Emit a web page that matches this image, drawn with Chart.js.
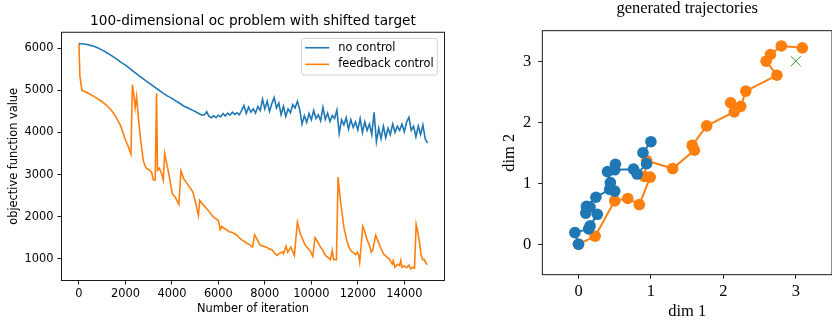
<!DOCTYPE html>
<html>
<head>
<meta charset="utf-8">
<script src="https://cdn.jsdelivr.net/npm/chart.js@4.4.1/dist/chart.umd.min.js"></script>
<style>
  html, body { margin: 0; padding: 0; background: #fff; overflow: hidden; width: 832px; height: 322px; }
  canvas { position: absolute; top: 0; }
  #lossChart { left: 0; }
  #trajChart { left: 460px; }
</style>
</head>
<body>
<canvas id="lossChart" width="460" height="322"></canvas>
<canvas id="trajChart" width="380" height="322"></canvas>
<script>
/* ── Datos: panel izquierdo (función objetivo) ──────────────────────────── */
const ITER_STEP = 100;   // no control: un valor cada 100 iteraciones
const noControlLoss = [
  6110, 6108, 6102, 6093, 6082, 6068, 6052, 6033, 6012, 5985,
  5955, 5925, 5893, 5860, 5825, 5790, 5752, 5713, 5672, 5635,
  5600, 5555, 5515, 5470, 5425, 5385, 5340, 5300, 5260, 5220,
  5180, 5140, 5100, 5060, 5020, 4980, 4940, 4905, 4870, 4840,
  4810, 4775, 4740, 4705, 4670, 4630, 4605, 4580, 4550, 4525,
  4500, 4470, 4440, 4410, 4420, 4490, 4380, 4350, 4400, 4350,
  4410, 4370, 4450, 4390, 4460, 4410, 4480, 4430, 4470, 4420,
  4520, 4640, 4450, 4600, 4480, 4560, 4460, 4620, 4520, 4790,
  4560, 4740, 4500, 4680, 4830, 4580, 4700, 4420, 4620, 4380,
  4560, 4470, 4660, 4580, 4740, 4550, 4200, 4400, 4240, 4450,
  4300, 4520, 4330, 4420, 4280, 4600, 4310, 4460, 4260, 4400,
  4330, 4530, 3980, 4300, 4180, 4350, 4080, 4300, 4120, 4250,
  4060, 4330, 4000, 4250, 4050, 4200, 3950, 4480, 3780, 4100,
  3850, 4150, 3880, 4100, 3950, 4200, 4000, 4150, 4050, 4200,
  4020, 4250, 4360, 4050, 4150, 3900, 4150, 3950, 4180, 3850,
  3750
];

const feedbackIter = [
  0, 40, 130, 300, 500, 700, 1000, 1200, 1400, 1550,
  1700, 1800, 1900, 2000, 2100, 2240, 2300, 2360, 2420, 2480,
  2550, 2650, 2770, 2850, 2920, 3000, 3130, 3200, 3280, 3340,
  3380, 3460, 3560, 3630, 3690, 3780, 3920, 4020, 4140, 4300,
  4390, 4500, 4700, 4900, 5030, 5140, 5200, 5350, 5500, 5650,
  5790, 5900, 6000, 6080, 6150, 6250, 6370, 6450, 6580, 6680,
  6800, 6900, 7010, 7100, 7230, 7350, 7470, 7560, 7650, 7800,
  7950, 8090, 8200, 8300, 8400, 8520, 8620, 8740, 8800, 8910,
  8980, 9060, 9120, 9270, 9400, 9530, 9740, 9850, 9960, 10060,
  10160, 10280, 10390, 10500, 10600, 10700, 10820, 10900, 10960, 11080,
  11150, 11250, 11400, 11520, 11610, 11720, 11820, 11900, 11980, 12040,
  12080, 12140, 12210, 12300, 12400, 12480, 12580, 12650, 12770, 12850,
  12970, 13100, 13250, 13350, 13480, 13520, 13600, 13700, 13800, 13850,
  13900, 14000, 14100, 14200, 14280, 14380, 14440, 14510, 14560, 14650,
  14720, 14790, 14850, 14900, 14980
];
const feedbackLoss = [
  6110, 5350, 5000, 4960, 4900, 4840, 4730, 4640, 4520, 4410,
  4260, 4150, 3990, 3820, 3700, 3490, 5130, 4900, 4590, 4850,
  4400, 3850, 3330, 3200, 3140, 3120, 3050, 2870, 2870, 4930,
  3100, 3150, 3020, 2870, 3500, 3260, 2860, 2540, 2470, 2290,
  3090, 2910, 2750, 2590, 2310, 2030, 2390, 2280, 2190, 2090,
  1990, 1950, 1910, 1690, 1770, 1720, 1690, 1640, 1630, 1600,
  1560, 1500, 1450, 1420, 1370, 1330, 1280, 1570, 1480, 1320,
  1300, 1270, 1230, 1220, 1150, 1080, 1130, 1160, 1120, 1300,
  1160, 1220, 1280, 1080, 1870, 1590, 1320, 1250, 1180, 1060,
  1500, 1400, 1280, 1200, 1080, 1040, 980, 1200, 980, 980,
  2940, 2390, 1750, 1450, 1280, 1180, 1140, 1100, 1160, 1080,
  925, 1280, 1770, 1650, 1450, 1350, 1160, 1230, 1560, 1450,
  1280, 1120, 1040, 1000, 880, 960, 800, 870, 840, 960,
  800, 830, 790, 850, 760, 800, 780, 1820, 1700, 1400,
  1100, 980, 990, 930, 860
];

const lossXTicks = [0, 2000, 4000, 6000, 8000, 10000, 12000, 14000];
const lossYTicks = [1000, 2000, 3000, 4000, 5000, 6000];

/* ── Datos: panel derecho (trayectorias) ────────────────────────────────── */
const blueTrajX = [0.00, -0.05, 0.14, 0.16, 0.26, 0.16, 0.10, 0.11, 0.24, 0.43, 0.50, 0.44, 0.40, 0.51, 0.50, 0.76, 0.81, 0.94, 0.89, 1.00];
const blueTrajY = [0.00, 0.19, 0.25, 0.30, 0.49, 0.61, 0.51, 0.62, 0.77, 0.90, 0.87, 1.01, 1.19, 1.31, 1.22, 1.23, 1.15, 1.32, 1.50, 1.68];
const orangeTrajX = [0.00, 0.23, 0.50, 0.68, 0.84, 0.99, 0.91, 0.94, 1.30, 1.60, 1.57, 1.77, 2.15, 2.10, 2.24, 2.31, 2.74, 2.59, 2.65, 2.80, 3.09];
const orangeTrajY = [0.00, 0.13, 0.71, 0.75, 0.65, 1.10, 1.11, 1.37, 1.24, 1.54, 1.62, 1.94, 2.17, 2.32, 2.26, 2.51, 2.77, 3.00, 3.11, 3.25, 3.22];
const targetX = [3];
const targetY = [3];
const trajTicks = [0, 1, 2, 3];

/* ── Estilos ────────────────────────────────────────────────────────────── */
const C_BLUE   = '#1f77b4';
const C_ORANGE = '#ff7f0e';
const C_GREEN  = '#2ca02c';
const SANS  = '"DejaVu Sans", sans-serif';
const SERIF = '"Liberation Serif", serif';
const sansTick  = { family: SANS, size: 11.4, lineHeight: 1.2 };
const serifText = { family: SERIF, size: 16.5, lineHeight: 1.2 };

/* ── Plugins ────────────────────────────────────────────────────────────── */
// título centrado sobre el área de datos (como matplotlib)
const centerTitle = {
  id: 'centerTitle',
  afterLayout(chart) {
    const t = chart.titleBlock;
    if (!t) return;
    t.left = chart.chartArea.left;
    t.right = chart.chartArea.right;
    t.width = t.right - t.left;
  }
};

// marco en los cuatro lados
const frame = {
  id: 'frame',
  afterDatasetsDraw(chart) {
    const { ctx, chartArea: a } = chart;
    ctx.save();
    ctx.strokeStyle = '#000';
    ctx.lineWidth = 0.9;
    ctx.strokeRect(a.left, a.top, a.right - a.left, a.bottom - a.top);
    ctx.restore();
  }
};

// leyenda dentro del área, arriba a la derecha
const boxLegend = {
  id: 'boxLegend',
  afterDraw(chart) {
    const { ctx, chartArea: a } = chart;
    const w = 135.6, h = 36.7;
    const x = a.right - 7.2 - w, y = a.top + 6.1;
    ctx.save();
    ctx.beginPath();
    ctx.roundRect(x, y, w, h, 2.5);
    ctx.fillStyle = 'rgba(255,255,255,0.8)';
    ctx.fill();
    ctx.strokeStyle = '#d0d0d0';
    ctx.lineWidth = 1;
    ctx.stroke();
    chart.data.datasets.forEach((ds, i) => {
      const ry = y + 9.4 + i * 16.6;
      ctx.beginPath();
      ctx.moveTo(x + 3.5, ry);
      ctx.lineTo(x + 27.5, ry);
      ctx.strokeStyle = ds.borderColor;
      ctx.lineWidth = 1.6;
      ctx.stroke();
      ctx.fillStyle = '#000';
      ctx.font = '11.4px ' + SANS;
      ctx.textBaseline = 'middle';
      ctx.fillText(ds.label, x + 36.5, ry);
    });
    ctx.restore();
  }
};

function fixedTicks(list) {
  return scale => { scale.ticks = list.map(v => ({ value: v })); };
}

function zip(xs, ys) {
  return xs.map((x, i) => ({ x, y: ys[i] }));
}

/* ── Panel izquierdo ────────────────────────────────────────────────────── */
new Chart(document.getElementById('lossChart'), {
  type: 'line',
  data: {
    datasets: [
      {
        label: 'no control',
        data: noControlLoss.map((v, i) => ({ x: i * ITER_STEP, y: v })),
        borderColor: C_BLUE,
        borderWidth: 1.6,
        pointRadius: 0,
        tension: 0
      },
      {
        label: 'feedback control',
        data: zip(feedbackIter, feedbackLoss),
        borderColor: C_ORANGE,
        borderWidth: 1.6,
        pointRadius: 0,
        tension: 0
      }
    ]
  },
  options: {
    responsive: false,
    animation: false,
    devicePixelRatio: 1,
    events: [],
    layout: { padding: { top: 12.8, left: 0, right: 15.5, bottom: 0 } },
    plugins: {
      legend: { display: false },
      tooltip: { enabled: false },
      title: {
        display: true,
        text: '100-dimensional oc problem with shifted target',
        color: '#000',
        font: { family: SANS, size: 13.7, weight: 'normal', lineHeight: 1.2 },
        padding: { top: 0, bottom: 3 }
      }
    },
    scales: {
      x: {
        type: 'linear',
        min: -750,
        max: 15730,
        afterBuildTicks: fixedTicks(lossXTicks),
        afterFit: s => { s.height = 41.5; },
        border: { display: false },
        grid: { drawOnChartArea: false, color: '#000', tickLength: 4, tickWidth: 0.9 },
        ticks: { color: '#000', font: sansTick, padding: 3, maxRotation: 0, autoSkip: false, callback: v => String(v) },
        title: { display: true, text: 'Number of iteration', color: '#000', font: sansTick, padding: { top: 0, bottom: 6.2 } }
      },
      y: {
        type: 'linear',
        min: 485,
        max: 6380,
        afterBuildTicks: fixedTicks(lossYTicks),
        afterFit: s => { s.width = 61.5; },
        border: { display: false },
        grid: { drawOnChartArea: false, color: '#000', tickLength: 4, tickWidth: 0.9 },
        ticks: { color: '#000', font: sansTick, padding: 4, autoSkip: false, callback: v => String(v) },
        title: { display: true, text: 'objective function value', color: '#000', font: sansTick, padding: { top: 7.4, bottom: 0 } }
      }
    }
  },
  plugins: [centerTitle, frame, boxLegend]
});

/* ── Panel derecho ──────────────────────────────────────────────────────── */
new Chart(document.getElementById('trajChart'), {
  type: 'scatter',
  data: {
    datasets: [
      {
        label: 'no control',
        data: zip(blueTrajX, blueTrajY),
        showLine: true,
        borderColor: C_BLUE,
        backgroundColor: C_BLUE,
        borderWidth: 2,
        pointRadius: 5.8,
        pointBorderWidth: 0,
        pointBackgroundColor: C_BLUE
      },
      {
        label: 'feedback control',
        data: zip(orangeTrajX, orangeTrajY),
        showLine: true,
        borderColor: C_ORANGE,
        backgroundColor: C_ORANGE,
        borderWidth: 2,
        pointRadius: 5.8,
        pointBorderWidth: 0,
        pointBackgroundColor: C_ORANGE
      },
      {
        label: 'target',
        data: zip(targetX, targetY),
        showLine: false,
        pointStyle: 'crossRot',
        pointRadius: 7,
        pointBorderWidth: 1,
        pointBorderColor: C_GREEN,
        borderColor: C_GREEN
      }
    ]
  },
  options: {
    responsive: false,
    animation: false,
    devicePixelRatio: 1,
    events: [],
    layout: { padding: { top: -1.2, left: 0, right: 3.2, bottom: 0 } },
    plugins: {
      legend: { display: false },
      tooltip: { enabled: false },
      title: {
        display: true,
        text: 'generated trajectories',
        color: '#000',
        font: { family: SERIF, size: 16.5, weight: 'normal', lineHeight: 1.2 },
        padding: { top: 0, bottom: 12.1 }
      }
    },
    scales: {
      x: {
        type: 'linear',
        min: -0.5,
        max: 3.5,
        afterBuildTicks: fixedTicks(trajTicks),
        afterFit: s => { s.height = 47.3; },
        border: { display: false },
        grid: { drawOnChartArea: false, color: '#000', tickLength: 4, tickWidth: 0.9 },
        ticks: { color: '#000', font: serifText, padding: 3, maxRotation: 0, autoSkip: false, callback: v => String(v) },
        title: { display: true, text: 'dim 1', color: '#000', font: serifText, padding: { top: 0, bottom: 0 } }
      },
      y: {
        type: 'linear',
        min: -0.5,
        max: 3.5,
        afterBuildTicks: fixedTicks(trajTicks),
        afterFit: s => { s.width = 82.3; },
        border: { display: false },
        grid: { drawOnChartArea: false, color: '#000', tickLength: 4, tickWidth: 0.9 },
        ticks: { color: '#000', font: serifText, padding: 7, autoSkip: false, callback: v => String(v) },
        title: { display: true, text: 'dim 2', color: '#000', font: serifText, padding: { top: 39.4, bottom: 0 } }
      }
    }
  },
  plugins: [centerTitle, frame]
});
</script>
</body>
</html>
